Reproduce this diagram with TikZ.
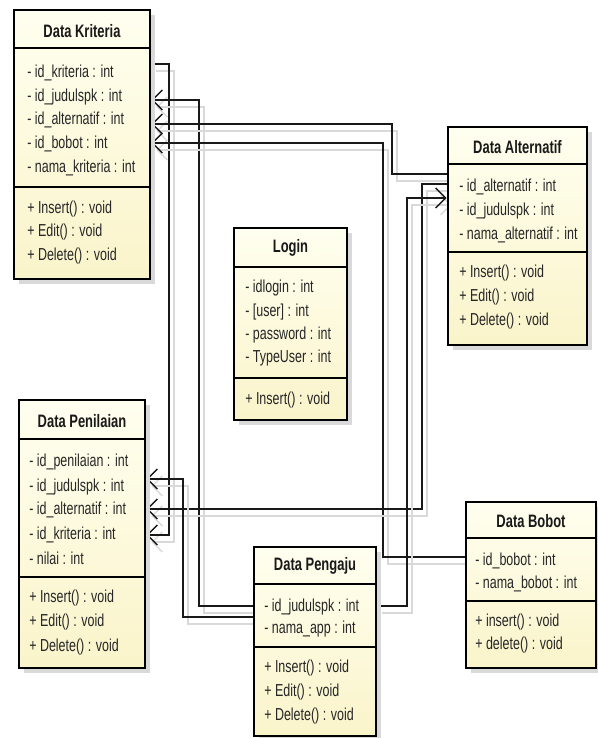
\documentclass[tikz,border=0pt]{standalone}
\usepackage{fontspec}
\setmainfont[FakeStretch=0.72]{Liberation Sans}
\usetikzlibrary{arrows.meta,fit,shadows,backgrounds}
\definecolor{boxtop}{RGB}{255,255,240}
\definecolor{boxbot}{RGB}{250,244,202}
\tikzset{
  classbox/.style={draw=black, line width=1.9pt, top color=boxtop, bottom color=boxbot, inner sep=0pt,
    drop shadow={shadow xshift=4pt, shadow yshift=-4pt, opacity=1, fill=black!15}},
  sepline/.style={line width=1.2pt, black},
  ttl/.style={font=\fontsize{13.5}{15}\selectfont\bfseries, inner sep=0pt, text=black!90},
  attr/.style={anchor=west, font=\fontsize{13}{15}\selectfont, inner sep=0pt, text height=9pt, text depth=2.7pt, text=black!85},
  conn/.style={line width=1.1pt, black!90, -{Straight Barb[length=7.5pt,width=15pt]},
    preaction={draw=black!15, line width=1.1pt, transform canvas={shift={(3.75pt,-5.25pt)}}}}
}
\begin{document}
\begin{tikzpicture}[x=0.75pt,y=-0.75pt]
\useasboundingbox (0,0) rectangle (598,738);

% ---------- Data Kriteria ----------
\node[classbox, fit={(14,10) (150,279)}] (krit) {};
\draw[sepline] (14,48) -- (150,48);
\draw[sepline] (14,187) -- (150,187);
\node[ttl] (krit-t) at (82,31) {Data Kriteria};
\node[attr] (krit-a1) at (27,73) {- id\_kriteria : int};
\node[attr] (krit-a2) at (27,97) {- id\_judulspk : int};
\node[attr] (krit-a3) at (27,120) {- id\_alternatif : int};
\node[attr] (krit-a4) at (27,144) {- id\_bobot : int};
\node[attr] (krit-a5) at (27,168) {- nama\_kriteria : int};
\node[attr] (krit-m1) at (27,209) {+ Insert() : void};
\node[attr] (krit-m2) at (27,232) {+ Edit() : void};
\node[attr] (krit-m3) at (27,256) {+ Delete() : void};

% ---------- Data Alternatif ----------
\node[classbox, fit={(448,127) (587,345)}] (alt) {};
\draw[sepline] (448,164) -- (587,164);
\draw[sepline] (448,252) -- (587,252);
\node[ttl] (alt-t) at (517.5,147) {Data Alternatif};
\node[attr] (alt-a1) at (459,187) {- id\_alternatif : int};
\node[attr] (alt-a2) at (459,211) {- id\_judulspk : int};
\node[attr] (alt-a3) at (459,235) {- nama\_alternatif : int};
\node[attr] (alt-m1) at (459,273) {+ Insert() : void};
\node[attr] (alt-m2) at (459,297) {+ Edit() : void};
\node[attr] (alt-m3) at (459,321) {+ Delete() : void};

% ---------- Login ----------
\node[classbox, fit={(234,228) (347,420)}] (login) {};
\draw[sepline] (234,267) -- (347,267);
\draw[sepline] (234,378) -- (347,378);
\node[ttl] (login-t) at (290.5,248) {Login};
\node[attr] (login-a1) at (245,288) {- idlogin : int};
\node[attr] (login-a2) at (245,312) {- [user] : int};
\node[attr] (login-a3) at (245,335) {- password : int};
\node[attr] (login-a4) at (245,358) {- TypeUser : int};
\node[attr] (login-m1) at (245,400) {+ Insert() : void};

% ---------- Data Penilaian ----------
\node[classbox, fit={(19,400) (145,668)}] (pen) {};
\draw[sepline] (19,439) -- (145,439);
\draw[sepline] (19,577) -- (145,577);
\node[ttl] (pen-t) at (82,421) {Data Penilaian};
\node[attr] (pen-a1) at (29,462) {- id\_penilaian : int};
\node[attr] (pen-a2) at (29,487) {- id\_judulspk : int};
\node[attr] (pen-a3) at (29,510) {- id\_alternatif : int};
\node[attr] (pen-a4) at (29,535) {- id\_kriteria : int};
\node[attr] (pen-a5) at (29,560) {- nilai : int};
\node[attr] (pen-m1) at (29,598) {+ Insert() : void};
\node[attr] (pen-m2) at (29,622) {+ Edit() : void};
\node[attr] (pen-m3) at (29,647) {+ Delete() : void};

% ---------- Data Pengaju ----------
\node[classbox, fit={(254,547) (376,736)}] (peng) {};
\draw[sepline] (254,584) -- (376,584);
\draw[sepline] (254,647) -- (376,647);
\node[ttl] (peng-t) at (315,566) {Data Pengaju};
\node[attr] (peng-a1) at (264,607) {- id\_judulspk : int};
\node[attr] (peng-a2) at (264,629) {- nama\_app : int};
\node[attr] (peng-m1) at (264,668) {+ Insert() : void};
\node[attr] (peng-m2) at (264,692) {+ Edit() : void};
\node[attr] (peng-m3) at (264,716) {+ Delete() : void};

% ---------- Data Bobot ----------
\node[classbox, fit={(466,502) (596,668)}] (bob) {};
\draw[sepline] (466,538) -- (596,538);
\draw[sepline] (466,601) -- (596,601);
\node[ttl] (bob-t) at (531,521) {Data Bobot};
\node[attr] (bob-a1) at (475,561) {- id\_bobot : int};
\node[attr] (bob-a2) at (475,584) {- nama\_bobot : int};
\node[attr] (bob-m1) at (475,622) {+ insert() : void};
\node[attr] (bob-m2) at (475,645) {+ delete() : void};

% ---------- helper levels ----------
\coordinate (h64) at (0,64);
\coordinate (h100) at (0,100);
\coordinate (h124) at (0,124);
\coordinate (h143) at (0,143);
\coordinate (h174) at (0,174);
\coordinate (h184) at (0,184);
\coordinate (h198) at (0,198);
\coordinate (h479) at (0,479);
\coordinate (h509) at (0,509);
\coordinate (h535) at (0,535);
\coordinate (h557) at (0,557);
\coordinate (h606) at (0,606);
\coordinate (h617) at (0,617);

% ---------- connectors ----------
\begin{scope}[on background layer]
\draw[conn] (krit.east |- h64) -| (169,535) -- (pen.east |- h535);
\draw[conn] (peng.west |- h606) -| (199,100) -- (krit.east |- h100);
\draw[conn] (alt.west |- h174) -| (392,124) -- (krit.east |- h124);
\draw[conn] (bob.west |- h557) -| (383,143) -- (krit.east |- h143);
\draw[conn] (alt.west |- h184) -| (422,509) -- (pen.east |- h509);
\draw[conn] (peng.east |- h606) -| (407,198) -- (alt.west |- h198);
\draw[conn] (peng.west |- h617) -| (183,479) -- (pen.east |- h479);
\end{scope}
\end{tikzpicture}
\end{document}
